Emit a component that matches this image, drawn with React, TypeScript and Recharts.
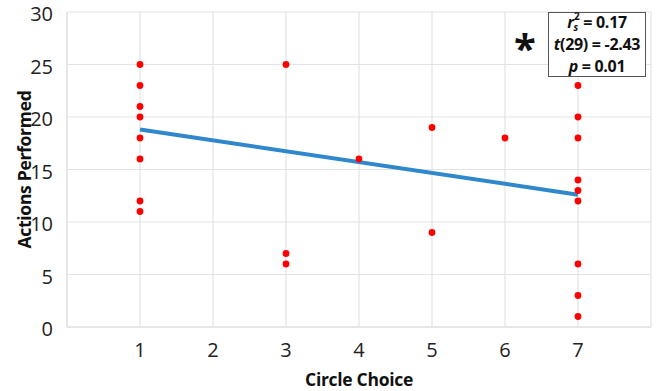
import React from "react";
import {
  ScatterChart,
  Scatter,
  XAxis,
  YAxis,
  CartesianGrid,
} from "recharts";

const CHOICES = [1, 1, 1, 1, 1, 1, 1, 1, 3, 3, 3, 4, 5, 5, 6, 7, 7, 7, 7, 7, 7, 7, 7, 7];
const ACTIONS = [25, 23, 21, 20, 18, 16, 12, 11, 25, 7, 6, 16, 19, 9, 18, 23, 20, 18, 14, 13, 12, 6, 3, 1];

const TREND_X = [1, 7];
const TREND_Y = [18.8, 12.6];

const X_TICKS = [0, 1, 2, 3, 4, 5, 6, 7, 8];
const Y_TICKS = [0, 5, 10, 15, 20, 25, 30];

const STATS = { rs2: "0.17", df: "29", t: "-2.43", p: "0.01" };

const FONT = "'Open Sans', 'DejaVu Sans', sans-serif";
const GRID = "#e3e3e3";

const points = CHOICES.map((x, i) => ({ x, y: ACTIONS[i] }));
const trend = TREND_X.map((x, i) => ({ x, y: TREND_Y[i] }));

const Dot = (props: any) => <circle cx={props.cx} cy={props.cy} r={3.4} fill="#ff0000" />;

const YTitle = (props: any) => {
  const { viewBox } = props;
  const cx = 24;
  const cy = viewBox.y + viewBox.height / 2;
  return (
    <text
      x={cx}
      y={cy}
      transform={`rotate(-90, ${cx}, ${cy})`}
      textAnchor="middle"
      dominantBaseline="central"
      fontFamily={FONT}
      fontWeight={700}
      fontSize={17.5}
      letterSpacing={-0.3}
      fill="#111"
    >
      Actions Performed
    </text>
  );
};

const XTitle = (props: any) => {
  const { viewBox } = props;
  return (
    <text
      x={viewBox.x + viewBox.width / 2}
      y={379}
      textAnchor="middle"
      dominantBaseline="central"
      fontFamily={FONT}
      fontWeight={700}
      fontSize={17.5}
      letterSpacing={-0.3}
      fill="#111"
    >
      Circle Choice
    </text>
  );
};

export default function App() {
  return (
    <div style={{ position: "absolute", left: 0, top: 0, width: 657, height: 391, background: "#fff" }}>
      <ScatterChart
        width={657}
        height={391}
        margin={{ top: 12, right: 6, bottom: 0, left: 0 }}
      >
        <CartesianGrid stroke={GRID} strokeWidth={1.2} />
        <XAxis
          type="number"
          dataKey="x"
          domain={[0, 8]}
          ticks={X_TICKS}
          tickFormatter={(v) => (v === 0 || v === 8 ? "" : String(v))}
          height={64}
          tickLine={false}
          axisLine={{ stroke: GRID, strokeWidth: 1.5 }}
          tickMargin={10}
          tick={{ fill: "#222", fontSize: 20, fontFamily: FONT }}
          label={<XTitle />}
          interval={0}
        />
        <YAxis
          type="number"
          dataKey="y"
          domain={[0, 30]}
          ticks={Y_TICKS}
          width={67}
          tickLine={false}
          axisLine={{ stroke: GRID, strokeWidth: 1.2 }}
          tickMargin={8}
          tick={{ fill: "#222", fontSize: 20, fontFamily: FONT, dy: 2 }}
          label={<YTitle />}
          interval={0}
        />
        <Scatter
          data={trend}
          line={{ stroke: "#2f87cc", strokeWidth: 4 }}
          shape={() => <g />}
          isAnimationActive={false}
        />
        <Scatter data={points} shape={Dot} isAnimationActive={false} />
      </ScatterChart>
      <svg
        width={657}
        height={391}
        style={{ position: "absolute", left: 0, top: 0, pointerEvents: "none" }}
      >
        <text
          x={525}
          y={63}
          textAnchor="middle"
          fontFamily={FONT}
          fontWeight={700}
          fontSize={40}
          fill="#111"
        >
          *
        </text>
        <rect x={548.5} y={12.5} width={97} height={64} fill="#fff" stroke="#555" strokeWidth={1} />
        <g fontFamily={FONT} fontWeight={700} fontSize={16} fill="#111" textAnchor="middle" letterSpacing={-0.3}>
          <text x={597} y={28}>
            <tspan fontStyle="italic">r</tspan>
            <tspan fontStyle="italic" fontSize={10} dy={3}>s</tspan>
            <tspan fontSize={10} dx={-4} dy={-11}>2</tspan>
            <tspan dy={8}>{` = ${STATS.rs2}`}</tspan>
          </text>
          <text x={597} y={50}>
            <tspan fontStyle="italic">t</tspan>
            <tspan>{`(${STATS.df}) = ${STATS.t}`}</tspan>
          </text>
          <text x={597} y={72}>
            <tspan fontStyle="italic">p</tspan>
            <tspan>{` = ${STATS.p}`}</tspan>
          </text>
        </g>
      </svg>
    </div>
  );
}
